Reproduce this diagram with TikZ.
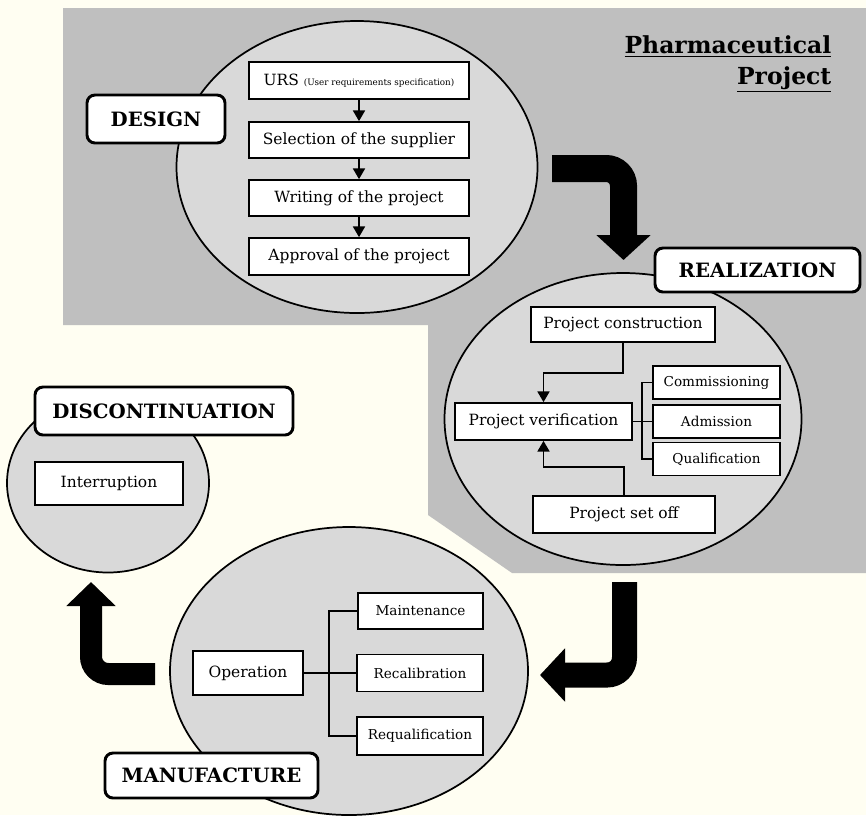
\documentclass[tikz,border=0pt]{standalone}
\usepackage{fontspec}
\setmainfont{DejaVu Serif}
\usetikzlibrary{shapes.geometric,arrows.meta}

\definecolor{cream}{HTML}{FFFEF2}
\definecolor{panel}{HTML}{BFBFBF}
\definecolor{phase}{HTML}{D9D9D9}

\tikzset{
  phasebg/.style={ellipse, draw=black, line width=1.3pt, fill=phase, inner sep=0pt},
  stepbox/.style 2 args={draw=black, line width=1.3pt, fill=white, inner sep=0pt,
    minimum width=#1*0.75pt, minimum height=#2*0.75pt,
    font=\fontsize{11.6}{13}\selectfont},
  smallbox/.style 2 args={stepbox={#1}{#2}, font=\fontsize{10.2}{12}\selectfont},
  phaselabel/.style 2 args={draw=black, line width=2.2pt, rounded corners=6pt,
    fill=white, inner sep=0pt, minimum width=#1*0.75pt, minimum height=#2*0.75pt,
    font=\fontsize{14.8}{17}\selectfont\bfseries},
  conn/.style={draw=black, line width=1.2pt, -{Triangle[width=9pt,length=8pt]}},
  link/.style={draw=black, line width=1.2pt},
  bigarrow/.style n args={3}{draw=black, line width=#1*0.75pt, rounded corners=13pt,
    -{Triangle[width=#2*0.75pt,length=#3*0.75pt]}},
}

\begin{document}
\begin{tikzpicture}[x=0.75pt,y=-0.75pt]
  % page and project panel
  \fill[cream] (0,0) rectangle (866,815);
  \useasboundingbox (0,0) rectangle (866,815);
  \fill[panel] (63,8) -- (866,8) -- (866,573) -- (512,573) -- (428,515)
     -- (428,325) -- (63,325) -- cycle;

  % phase ellipses
  \node[phasebg, minimum width=361*0.75pt, minimum height=292*0.75pt] (design) at (357,167) {};
  \node[phasebg, minimum width=357*0.75pt, minimum height=292*0.75pt] (real) at (623,419) {};
  \node[phasebg, minimum width=202*0.75pt, minimum height=179*0.75pt] (disc) at (108,483) {};
  \node[phasebg, minimum width=358*0.75pt, minimum height=288*0.75pt] (manu) at (349,671) {};

  % title
  \node[anchor=east, align=right, font=\fontsize{17.6}{23}\selectfont\bfseries] (title) at (836,64)
    {\underline{Pharmaceutical}\\\underline{Project}};

  % flow arrows between phases
  \coordinate (a1s) at (552,168.5);
  \coordinate (a1c) at (623.5,168.5);
  \coordinate (a1e) at (623.5,260);
  \draw[bigarrow={27}{53}{25}] (a1s) -- (a1c) -- (a1e);
  \coordinate (a2s) at (624.5,582);
  \coordinate (a2c) at (624.5,675);
  \coordinate (a2e) at (540,675);
  \draw[bigarrow={25}{52}{25}] (a2s) -- (a2c) -- (a2e);
  \coordinate (a3s) at (155,674);
  \coordinate (a3c) at (91,674);
  \coordinate (a3e) at (91,582);
  \draw[bigarrow={22}{48}{24}] (a3s) -- (a3c) -- (a3e);

  % design steps
  \node[stepbox={220}{37}] (urs) at (359,80.5)
    {URS {\fontsize{6.6}{8}\selectfont(User requirements specification)}};
  \node[stepbox={220}{36}] (sel) at (359,140) {Selection of the supplier};
  \node[stepbox={220}{36}] (wri) at (359,198) {Writing of the project};
  \node[stepbox={220}{37}] (app) at (359,256.5) {Approval of the project};
  \draw[conn] (urs) -- (sel);
  \draw[conn] (sel) -- (wri);
  \draw[conn] (wri) -- (app);

  % realization steps
  \node[stepbox={184}{35}] (pc) at (623,324.5) {Project construction};
  \node[stepbox={177}{37}] (pv) at (543.5,421.5) {Project verification};
  \node[smallbox={127}{33}] (cm) at (716.5,382.5) {Commissioning};
  \node[smallbox={127}{33}] (ad) at (716.5,421.5) {Admission};
  \node[smallbox={127}{33}] (qu) at (716.5,459) {Qualification};
  \node[stepbox={182}{37}] (ps) at (624,514.5) {Project set off};
  \draw[conn] (pc.south) -- ++(0,30) -| (pv.north);
  \draw[conn] (ps.north) -- ++(0,-28) -| (pv.south);
  \draw[link] (pv.east) -- (ad.west);
  \draw[link] (cm.west) -- ++(-10,0) |- (qu.west);

  % manufacture steps
  \node[stepbox={110}{44}] (op) at (248,673) {Operation};
  \node[smallbox={125}{36}] (mt) at (420.5,611) {Maintenance};
  \node[smallbox={126}{37}] (rc) at (420,673) {Recalibration};
  \node[smallbox={126}{38}] (rq) at (420,736) {Requalification};
  \draw[link] (op.east) -- (rc.west);
  \draw[link] (mt.west) -- ++(-28,0) |- (rq.west);

  % discontinuation step
  \node[stepbox={148}{43}] (intr) at (109,483.5) {Interruption};

  % phase labels
  \node[phaselabel={138}{48}] (ldesign) at (156,119) {DESIGN};
  \node[phaselabel={205}{44}] (lreal) at (757.5,270) {REALIZATION};
  \node[phaselabel={258}{48}] (ldisc) at (164,411) {DISCONTINUATION};
  \node[phaselabel={213}{45}] (lmanu) at (211.5,775.5) {MANUFACTURE};
\end{tikzpicture}
\end{document}
